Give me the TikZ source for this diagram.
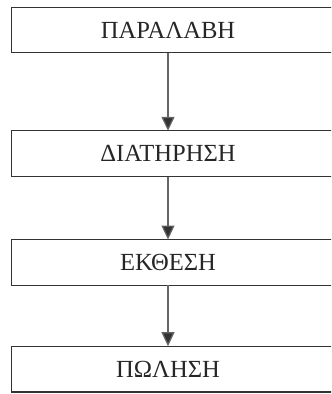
\documentclass[tikz,border=0pt]{standalone}
\usepackage{fontspec}
\setmainfont{Liberation Serif}
\usetikzlibrary{positioning,arrows.meta}

\begin{document}
\begin{tikzpicture}[x=0.02cm,y=-0.02cm,
    stage/.style = {minimum width=6.24cm, minimum height=0.9cm, inner sep=0pt, font=\fontsize{14}{16}\selectfont, text=black!85},
    frame/.style = {draw=black!80, line width=0.7pt},
    flow/.style = {draw=black!60, line width=0.7pt, -{Triangle[length=0.28cm,width=0.26cm,fill=black!80]}}]
                \useasboundingbox (0,0) rectangle (331,394);
                \clip (0,0) rectangle (331,394);
                \node[stage] (1) at (168,30) {ΠΑΡΑΛΑΒΗ};
                \node[stage] (2) [below=1.56cm of 1] {ΔΙΑΤΗΡΗΣΗ};
                \node[stage] (3) [below=1.26cm of 2] {ΕΚΘΕΣΗ};
                \node[stage] (4) [below=1.22cm of 3] {ΠΩΛΗΣΗ};
                % boxes run off the right edge
                \foreach \n in {1,...,4}
                    \draw[frame] ([xshift=1cm]\n.north east) -- (\n.north west) -- (\n.south west) -- ([xshift=1cm]\n.south east);
                \draw[flow] (1) -- (2);
                \draw[flow] (2) -- (3);
                \draw[flow] (3) -- (4);
            \end{tikzpicture}
\end{document}
